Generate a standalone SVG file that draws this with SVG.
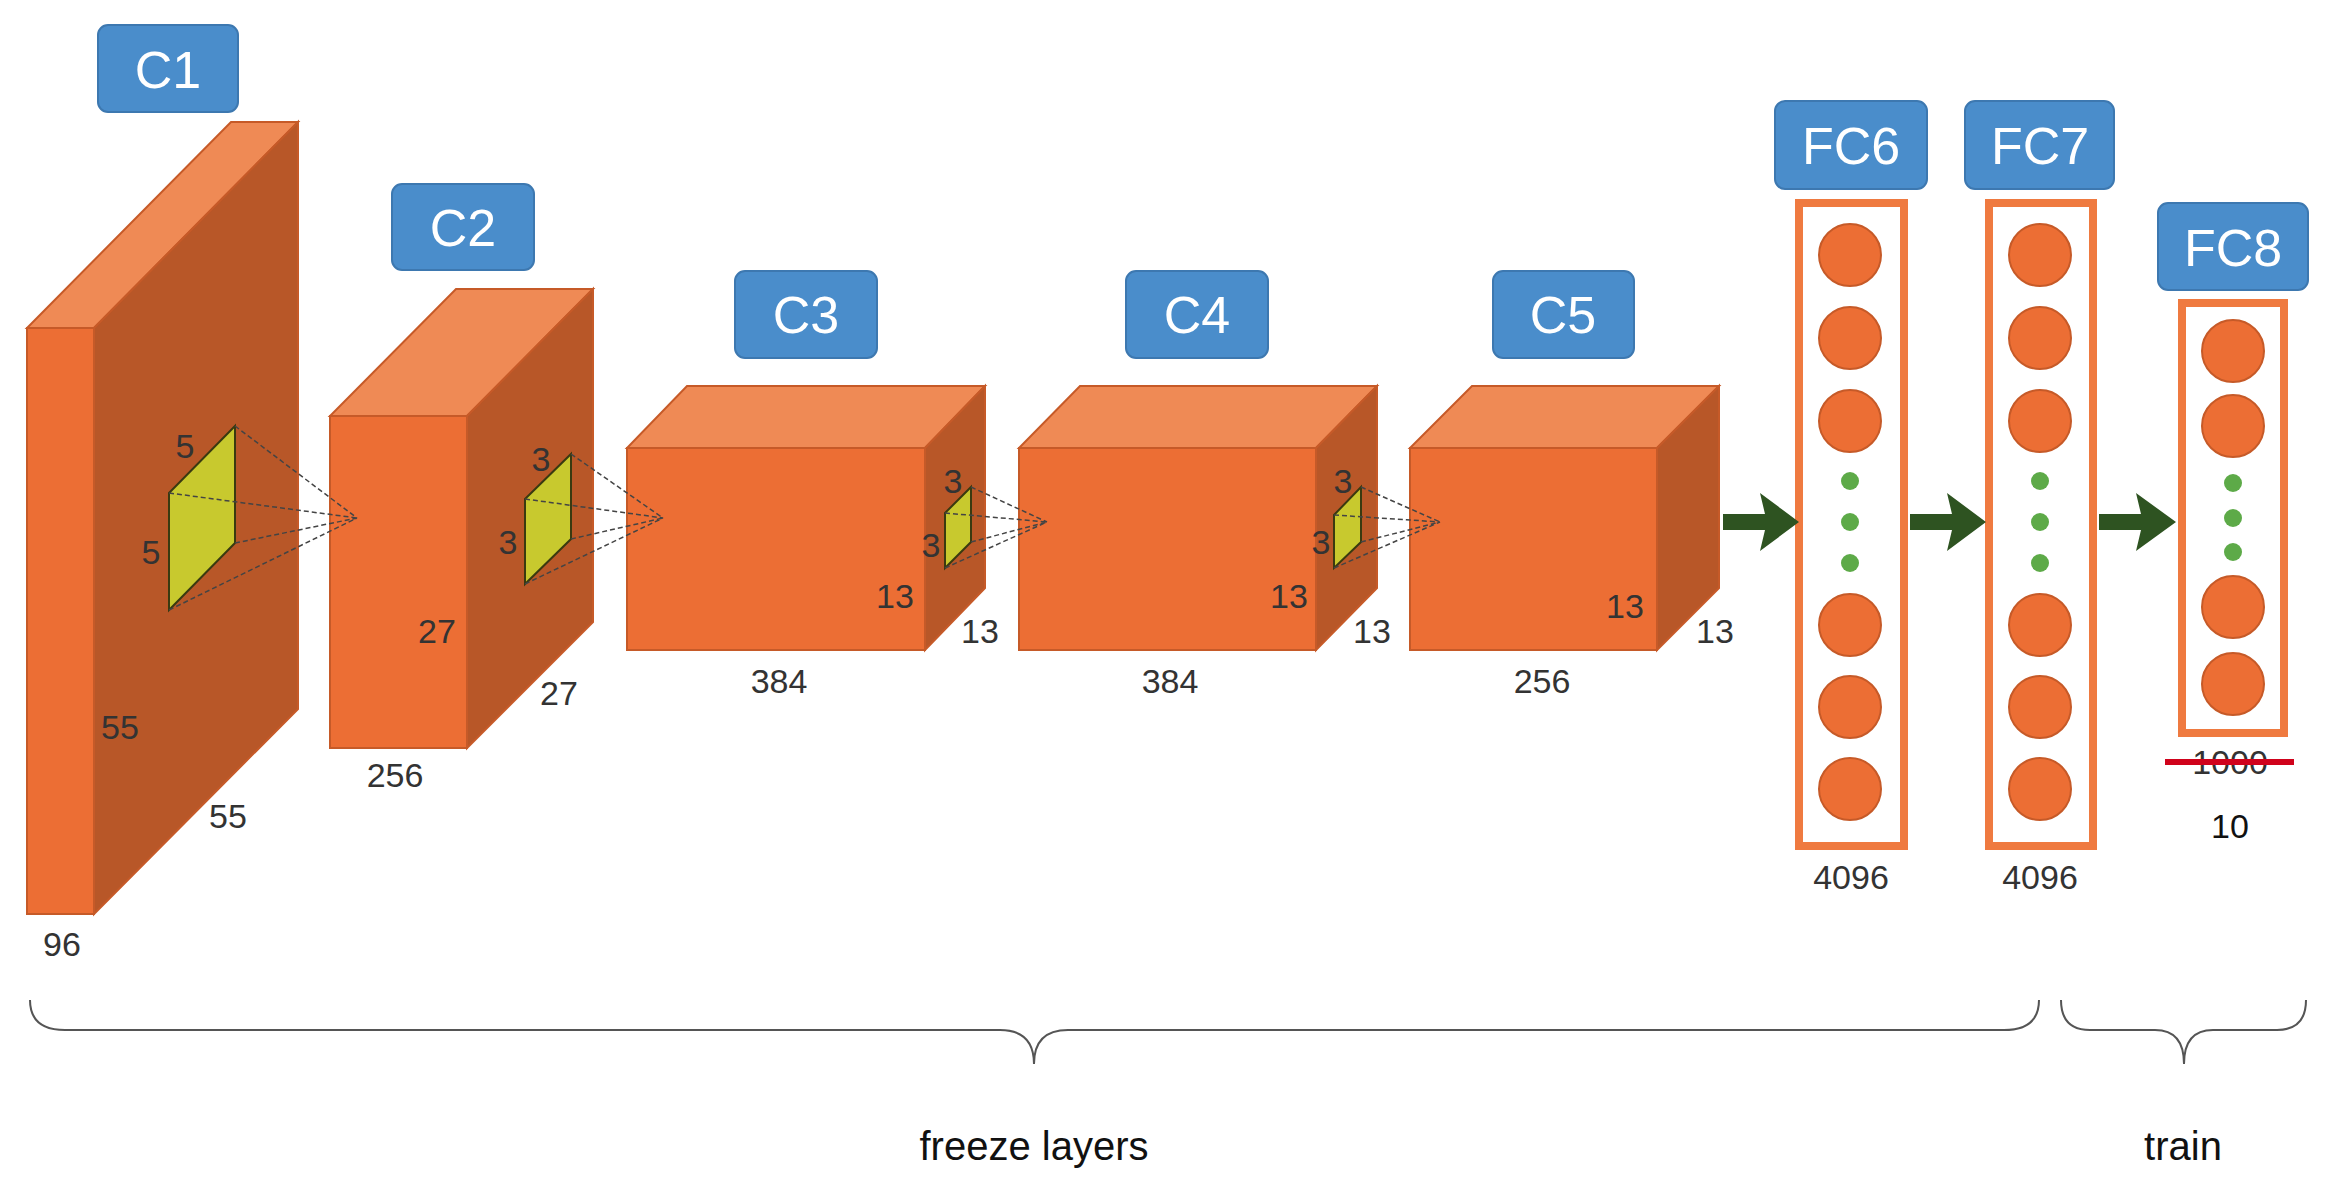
<svg xmlns="http://www.w3.org/2000/svg" width="2333" height="1191" viewBox="0 0 2333 1191">
<style>
.front{fill:#EC6E34;stroke:#C65A28;stroke-width:2}
.side{fill:#B85728;stroke:#C65A28;stroke-width:2}
.top{fill:#EF8A55;stroke:#C65A28;stroke-width:2}
.lbl rect{fill:#4A8DCB;stroke:#3D78B0;stroke-width:2}
.lbl text{font-family:"Liberation Sans",Arial,sans-serif;font-size:52px;fill:#fff;text-anchor:middle}
.num{font-family:"Liberation Sans",Arial,sans-serif;font-size:34px;fill:#333;text-anchor:middle}
.filt{fill:#C8C92E;stroke:#3a3a10;stroke-width:2}
.ray{stroke:#444;stroke-width:1.5;stroke-dasharray:5,3;fill:none}
.fcbox{fill:#fff;stroke:#EF7A40;stroke-width:8}
.neu{fill:#EC6E34;stroke:#C65A28;stroke-width:2}
.dot{fill:#5DAA48}
.arr{fill:#2E5321}
.brace{fill:none;stroke:#555;stroke-width:2}
.cap{font-family:"Liberation Sans",Arial,sans-serif;font-size:40px;fill:#111;text-anchor:middle}
</style>

<g id="C1">
<g class="lbl"><rect x="98" y="25" width="140" height="87" rx="10"/><text x="168" y="88">C1</text></g>
<polygon class="top" points="27,328 94,328 298,122 231,122"/>
<polygon class="side" points="94,328 298,122 298,709 94,914"/>
<rect class="front" x="27" y="328" width="67" height="586"/>
<polygon class="filt" points="169,493 235,426 235,543 169,610"/>
<text class="num" x="185" y="458">5</text><text class="num" x="151" y="564">5</text>
<text class="num" x="120" y="739">55</text><text class="num" x="228" y="828">55</text><text class="num" x="62" y="956">96</text>
</g>

<g id="C2">
<g class="lbl"><rect x="392" y="184" width="142" height="86" rx="10"/><text x="463" y="246">C2</text></g>
<polygon class="top" points="330,416 467,416 593,289 456,289"/>
<polygon class="side" points="467,416 593,289 593,622 467,748"/>
<rect class="front" x="330" y="416" width="137" height="332"/>
<polygon class="filt" points="525,499 571,454 571,539 525,584"/>
<text class="num" x="541" y="471">3</text><text class="num" x="508" y="554">3</text>
<text class="num" x="437" y="643">27</text><text class="num" x="559" y="705">27</text><text class="num" x="395" y="787">256</text>
</g>

<g id="C3">
<g class="lbl"><rect x="735" y="271" width="142" height="87" rx="10"/><text x="806" y="333">C3</text></g>
<polygon class="top" points="627,448 925,448 985,386 687,386"/>
<polygon class="side" points="925,448 985,386 985,588 925,650"/>
<rect class="front" x="627" y="448" width="298" height="202"/>
<polygon class="filt" points="945,513 971,487 971,542 945,568"/>
<text class="num" x="953" y="493">3</text><text class="num" x="931" y="557">3</text>
<text class="num" x="895" y="608">13</text><text class="num" x="980" y="643">13</text><text class="num" x="779" y="693">384</text>
</g>

<g id="C4">
<g class="lbl"><rect x="1126" y="271" width="142" height="87" rx="10"/><text x="1197" y="333">C4</text></g>
<polygon class="top" points="1019,448 1316,448 1377,386 1080,386"/>
<polygon class="side" points="1316,448 1377,386 1377,588 1316,650"/>
<rect class="front" x="1019" y="448" width="297" height="202"/>
<polygon class="filt" points="1334,515 1361,487 1361,542 1334,568"/>
<text class="num" x="1343" y="493">3</text><text class="num" x="1321" y="554">3</text>
<text class="num" x="1289" y="608">13</text><text class="num" x="1372" y="643">13</text><text class="num" x="1170" y="693">384</text>
</g>

<g id="C5">
<g class="lbl"><rect x="1493" y="271" width="141" height="87" rx="10"/><text x="1563" y="333">C5</text></g>
<polygon class="top" points="1410,448 1657,448 1719,386 1472,386"/>
<polygon class="side" points="1657,448 1719,386 1719,588 1657,650"/>
<rect class="front" x="1410" y="448" width="247" height="202"/>
<text class="num" x="1625" y="618">13</text><text class="num" x="1715" y="643">13</text><text class="num" x="1542" y="693">256</text>
</g>

<g id="FC6">
<g class="lbl"><rect x="1775" y="101" width="152" height="88" rx="10"/><text x="1851" y="164">FC6</text></g>
<rect class="fcbox" x="1799" y="203" width="105" height="643"/>
<circle class="neu" cx="1850" cy="255" r="31"/><circle class="neu" cx="1850" cy="338" r="31"/><circle class="neu" cx="1850" cy="421" r="31"/>
<circle class="dot" cx="1850" cy="481" r="9"/><circle class="dot" cx="1850" cy="522" r="9"/><circle class="dot" cx="1850" cy="563" r="9"/>
<circle class="neu" cx="1850" cy="625" r="31"/><circle class="neu" cx="1850" cy="707" r="31"/><circle class="neu" cx="1850" cy="789" r="31"/>
<text class="num" x="1851" y="889">4096</text>
</g>

<g id="FC7">
<g class="lbl"><rect x="1965" y="101" width="149" height="88" rx="10"/><text x="2040" y="164">FC7</text></g>
<rect class="fcbox" x="1989" y="203" width="104" height="643"/>
<circle class="neu" cx="2040" cy="255" r="31"/><circle class="neu" cx="2040" cy="338" r="31"/><circle class="neu" cx="2040" cy="421" r="31"/>
<circle class="dot" cx="2040" cy="481" r="9"/><circle class="dot" cx="2040" cy="522" r="9"/><circle class="dot" cx="2040" cy="563" r="9"/>
<circle class="neu" cx="2040" cy="625" r="31"/><circle class="neu" cx="2040" cy="707" r="31"/><circle class="neu" cx="2040" cy="789" r="31"/>
<text class="num" x="2040" y="889">4096</text>
</g>

<g id="FC8">
<g class="lbl"><rect x="2158" y="203" width="150" height="87" rx="10"/><text x="2233" y="266">FC8</text></g>
<rect class="fcbox" x="2182" y="303" width="102" height="430"/>
<circle class="neu" cx="2233" cy="351" r="31"/><circle class="neu" cx="2233" cy="426" r="31"/>
<circle class="dot" cx="2233" cy="483" r="9"/><circle class="dot" cx="2233" cy="518" r="9"/><circle class="dot" cx="2233" cy="552" r="9"/>
<circle class="neu" cx="2233" cy="607" r="31"/><circle class="neu" cx="2233" cy="684" r="31"/>
<text class="num" x="2230" y="774">1000</text>
<line x1="2165" y1="762" x2="2294" y2="762" stroke="#D0021B" stroke-width="6"/>
<text class="num" x="2230" y="838" fill="#111" style="fill:#111">10</text>
</g>

<g id="connectors">
<path class="ray" d="M235,426 L357,518 M235,543 L357,518 M169,493 L357,518 M169,610 L357,518"/>
<path class="ray" d="M571,454 L663,518 M571,539 L663,518 M525,499 L663,518 M525,584 L663,518"/>
<path class="ray" d="M971,487 L1047,522 M971,542 L1047,522 M945,513 L1047,522 M945,568 L1047,522"/>
<path class="ray" d="M1361,487 L1440,522 M1361,542 L1440,522 M1334,515 L1440,522 M1334,568 L1440,522"/>
<polygon class="arr" points="1723,514 1765,514 1760,493 1799,522 1760,551 1765,530 1723,530"/>
<polygon class="arr" points="1910,514 1952,514 1947,493 1986,522 1947,551 1952,530 1910,530"/>
<polygon class="arr" points="2099,514 2141,514 2136,493 2176,522 2136,551 2141,530 2099,530"/>
</g>

<g id="braces">
<path class="brace" d="M30,1000 Q30,1030 65,1030 L1000,1030 Q1034,1030 1034,1064 Q1034,1030 1068,1030 L2004,1030 Q2039,1030 2039,1000"/>
<path class="brace" d="M2061,1000 Q2061,1030 2090,1030 L2155,1030 Q2184,1030 2184,1064 Q2184,1030 2213,1030 L2277,1030 Q2306,1030 2306,1000"/>
<text class="cap" x="1034" y="1160">freeze layers</text>
<text class="cap" x="2183" y="1160">train</text>
</g>
</svg>
